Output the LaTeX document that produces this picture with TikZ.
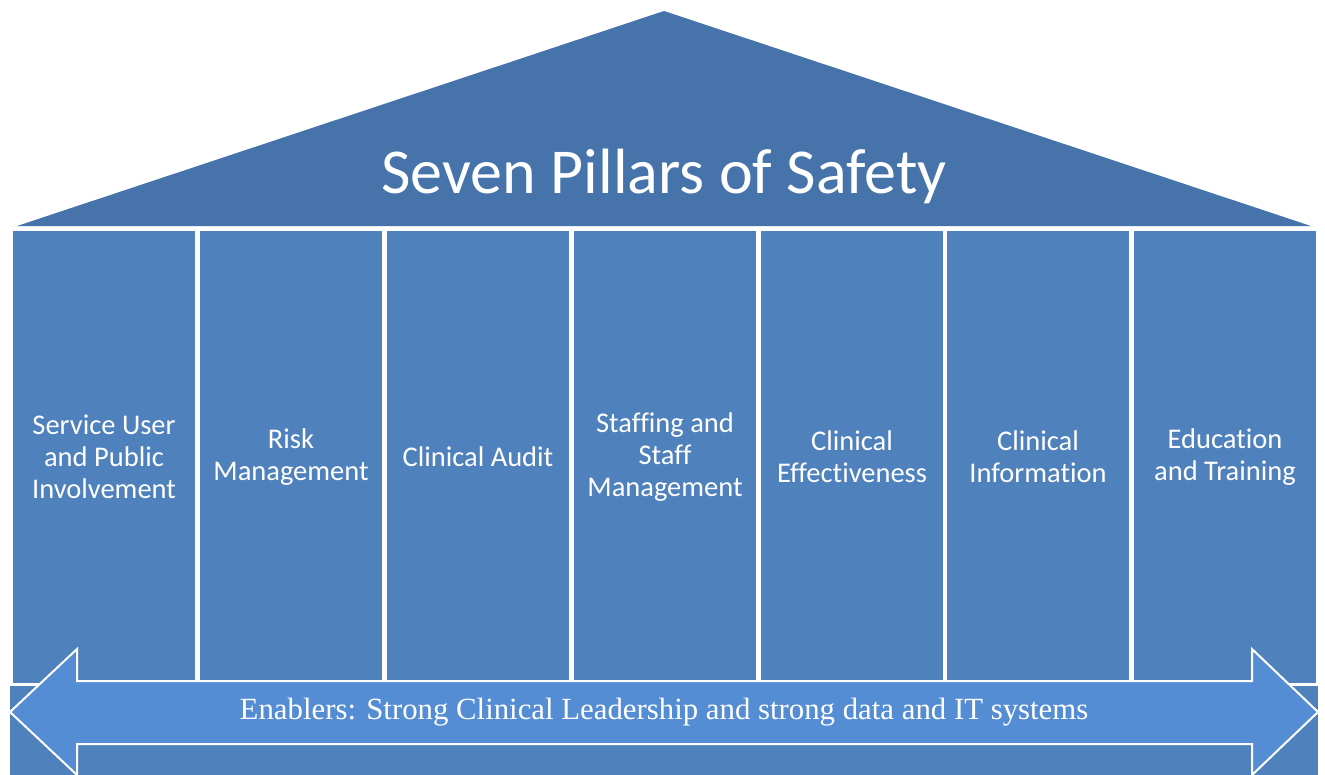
\documentclass[tikz,border=0pt]{standalone}
\usepackage{fontspec}
\setmainfont{Carlito}[Ligatures={NoCommon}]
\newfontfamily\enabfont{Liberation Serif}
\definecolor{roofblue}{RGB}{70,116,170}
\definecolor{pillarblue}{RGB}{79,129,189}
\definecolor{arrowblue}{RGB}{85,141,213}
\begin{document}
\begin{tikzpicture}[x=1pt,y=-1pt,
  pillar/.style={draw=white,line width=2pt,fill=pillarblue,minimum width=184pt,minimum height=454pt,
    inner sep=0pt,align=center,text=white,font=\fontsize{28.5}{32}\selectfont},
  rooftext/.style={text=white,font=\fontsize{64}{78}\selectfont,inner sep=0pt,anchor=base},
  arrowshape/.style={draw=white,line width=2pt,fill=arrowblue,line join=miter},
  arrowtext/.style={text=white,font=\enabfont\fontsize{30.8}{34}\selectfont,inner sep=0pt,anchor=base}]
\useasboundingbox (0,0) rectangle (1325,774);
% roof
\fill[roofblue] (17,226) -- (664,11) -- (1311,226) -- cycle;
\node[rooftext] (title) at (664,193) {Seven Pillars of Safety};
% pillars
\node[pillar] (p1) at (104,457) {Service User\\and Public\\Involvement};
\node[pillar] (p2) at (291,457) {Risk\\Management};
\node[pillar] (p3) at (478,457) {Clinical Audit};
\node[pillar] (p4) at (665,457) {Staffing and\\Staff\\Management};
\node[pillar] (p5) at (852,457) {Clinical\\Effectiveness};
\node[pillar] (p6) at (1038,457) {Clinical\\Information};
\node[pillar] (p7) at (1225,457) {Education\\and Training};
% base
\fill[pillarblue] (10,686) rectangle (1318,790);
% double arrow
\path[arrowshape] (10,712) -- (77,649) -- (77,681) -- (1252,681) -- (1252,649) -- (1318,712)
  -- (1252,775) -- (1252,744) -- (77,744) -- (77,775) -- cycle;
\node[arrowtext] (enablers) at (664,719) {Enablers: Strong Clinical Leadership and strong data and IT systems};
\end{tikzpicture}
\end{document}
